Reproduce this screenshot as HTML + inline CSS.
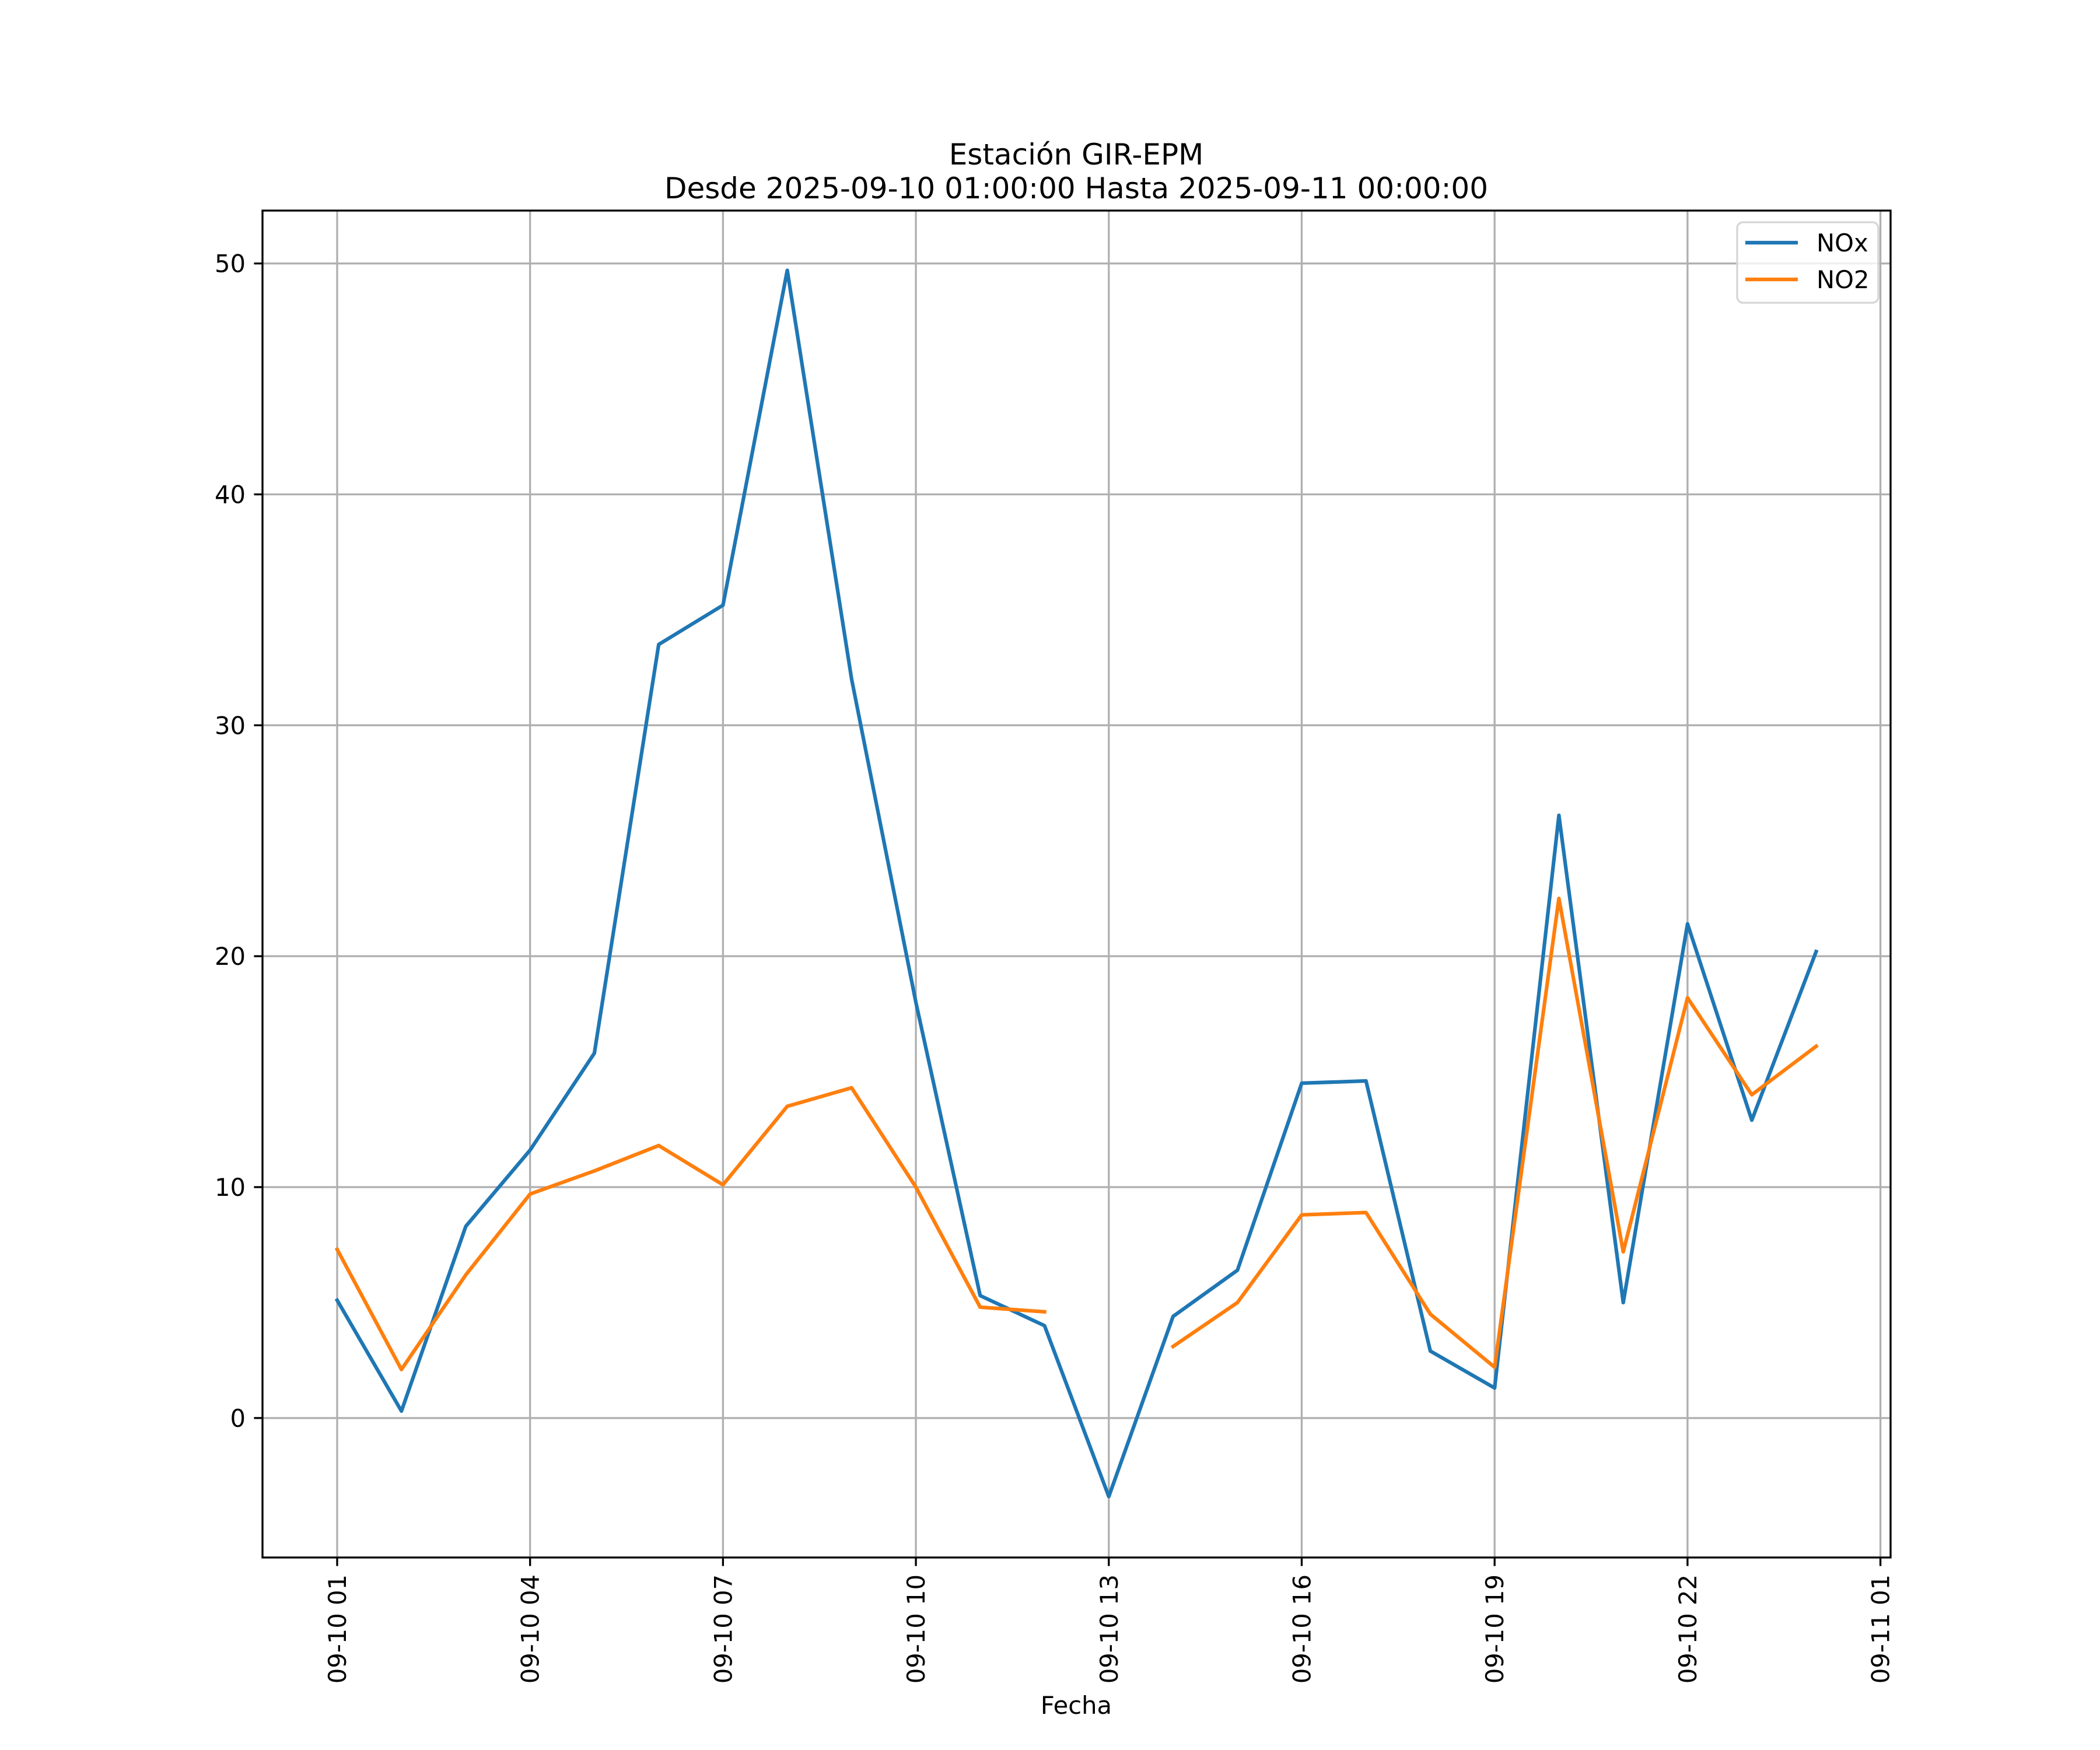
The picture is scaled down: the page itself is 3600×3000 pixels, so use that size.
<!DOCTYPE html>
<html><head><meta charset="utf-8"><style>
html,body{margin:0;padding:0;background:#fff}
svg{display:block}
text{font-family:"DejaVu Sans","Liberation Sans",sans-serif;fill:#000}
</style></head><body>
<svg id="chart" width="3600" height="3000" viewBox="0 0 3600 3000" xmlns="http://www.w3.org/2000/svg">
<rect width="3600" height="3000" fill="#fff"/>
<g id="grid"></g>
<g id="series"></g>
<g id="axes"></g>
<text x="1845" y="282" font-size="50" text-anchor="middle">Estación GIR-EPM</text>
<text x="1845" y="340" font-size="50" text-anchor="middle">Desde 2025-09-10 01:00:00 Hasta 2025-09-11 00:00:00</text>
<text x="1845" y="2938" font-size="41.67" text-anchor="middle">Fecha</text>
<g>
<rect x="2978" y="381" width="242" height="138" rx="10" fill="#fff" fill-opacity="0.8" stroke="#d6d6d6" stroke-width="3.3"/>
<line x1="2992" y1="416" x2="3082" y2="416" stroke="#1f77b4" stroke-width="6.25"/>
<text x="3114" y="431" font-size="41.67">NOx</text>
<line x1="2992" y1="479" x2="3082" y2="479" stroke="#ff7f0e" stroke-width="6.25"/>
<text x="3114" y="494" font-size="41.67">NO2</text>
</g>
</svg>
<script>
const hours = [1,2,3,4,5,6,7,8,9,10,11,12,13,14,15,16,17,18,19,20,21,22,23,24];
const noxValues = [5.1,0.3,8.3,11.6,15.8,33.5,35.2,49.7,32.0,18.0,5.3,4.0,-3.4,4.4,6.4,14.5,14.6,2.9,1.3,26.1,5.0,21.4,12.9,20.2];
const no2Values = [7.3,2.1,6.2,9.7,10.7,11.8,10.1,13.5,14.3,10.0,4.8,4.6,null,3.1,5.0,8.8,8.9,4.5,2.2,22.5,7.2,18.2,14.0,16.1];
const xTickHours = [1,4,7,10,13,16,19,22,25];
const xTickLabels = ["09-10 01","09-10 04","09-10 07","09-10 10","09-10 13","09-10 16","09-10 19","09-10 22","09-11 01"];
const yTicks = [0,10,20,30,40,50];

const L=450,R=3241,T=361,B=2670;
const xMin=-0.1611, xMax=25.158;
const yMin=-6.04, yMax=52.29;
const X=h=>L+(h-xMin)/(xMax-xMin)*(R-L);
const Y=v=>B-(v-yMin)/(yMax-yMin)*(B-T);
const NS="http://www.w3.org/2000/svg";
function mk(tag,attrs,parent){const e=document.createElementNS(NS,tag);for(const k in attrs)e.setAttribute(k,attrs[k]);parent.appendChild(e);return e;}
const grid=document.getElementById('grid'),axes=document.getElementById('axes'),series=document.getElementById('series');

xTickHours.forEach((h,i)=>{
  const x=X(h);
  const g=mk('line',{x1:x,y1:T,x2:x,y2:B,stroke:'#b0b0b0','stroke-width':3.33},grid);
  
  
  const t=mk('line',{x1:x,y1:B,x2:x,y2:B+14.6,stroke:'#000','stroke-width':3.33},axes);
  
  
  const lb=mk('text',{x:0,y:0,'font-size':41.67,'text-anchor':'end',transform:`translate(${x+15},${B+29}) rotate(-90)`},axes);
  lb.textContent=xTickLabels[i];
  
  
});
yTicks.forEach(v=>{
  const y=Y(v);
  const g=mk('line',{x1:L,y1:y,x2:R,y2:y,stroke:'#b0b0b0','stroke-width':3.33},grid);
  
  
  const t=mk('line',{x1:L-14.6,y1:y,x2:L,y2:y,stroke:'#000','stroke-width':3.33},axes);
  
  
  const lb=mk('text',{x:L-29,y:y+15,'font-size':41.67,'text-anchor':'end'},axes);
  lb.textContent=String(v);
  
  
});
const frame=mk('rect',{x:L,y:T,width:R-L,height:B-T,fill:'none',stroke:'#000','stroke-width':3.33},axes);



function drawSeries(vals,color,name){
  let segs=[],cur=[];
  vals.forEach((v,i)=>{ if(v===null){ if(cur.length)segs.push(cur); cur=[]; } else cur.push(X(hours[i]).toFixed(1)+','+Y(v).toFixed(1)); });
  if(cur.length)segs.push(cur);
  segs.forEach(s=>{
    const p=mk('polyline',{points:s.join(' '),fill:'none',stroke:color,'stroke-width':6.25,'stroke-linejoin':'round','stroke-linecap':'square'},series);
    
    
  });
}
drawSeries(noxValues,'#1f77b4','nox-line');
drawSeries(no2Values,'#ff7f0e','no2-line');
</script>
</body></html>
